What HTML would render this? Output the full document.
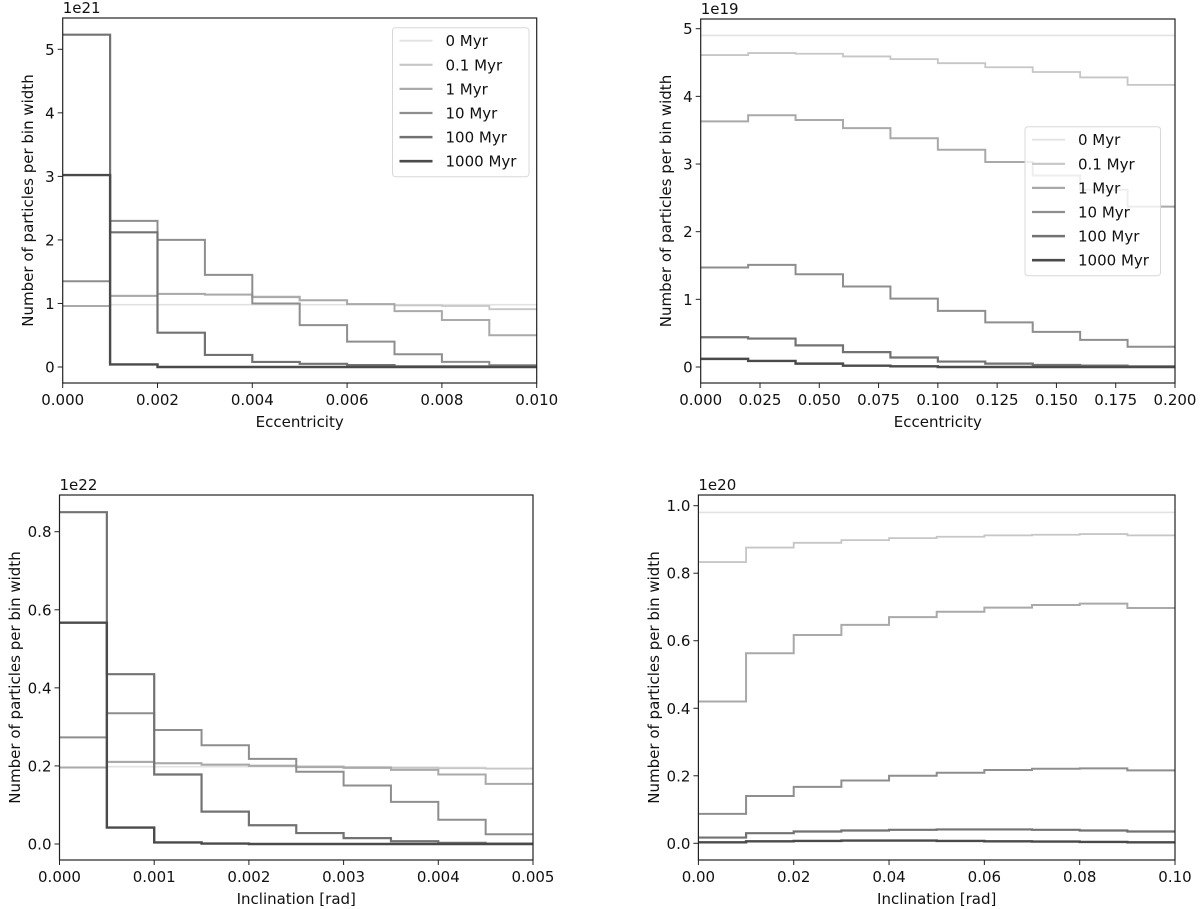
<!DOCTYPE html>
<html><head><meta charset="utf-8"><style>
body{margin:0;background:#fff;}
svg{display:block;font-family:"DejaVu Sans","Liberation Sans",sans-serif;}
</style></head><body>
<svg id="fig" width="1200" height="909" viewBox="0 0 1200 909" xmlns="http://www.w3.org/2000/svg"></svg>
<script>
const seriesNames = ["0 Myr","0.1 Myr","1 Myr","10 Myr","100 Myr","1000 Myr"];
const seriesColors = ["#e2e2e2","#c6c6c6","#a9a9a9","#8e8e8e","#727272","#4a4a4a"];
const seriesWidths = [1.6,1.8,2,2,2.2,2.4];

const eccSmallEdges = [0,0.001,0.002,0.003,0.004,0.005,0.006,0.007,0.008,0.009,0.010];
const eccSmall0 = [0.96,0.98,0.98,0.98,0.98,0.98,0.98,0.98,0.98,0.98];
const eccSmall01 = [0.96,1.12,1.15,1.14,1.11,1.05,0.99,0.97,0.96,0.91];
const eccSmall1 = [0.96,1.12,1.15,1.14,1.10,1.05,0.99,0.88,0.74,0.50];
const eccSmall10 = [1.35,2.30,2.00,1.45,1.00,0.66,0.40,0.20,0.08,0.03];
const eccSmall100 = [5.23,2.12,0.54,0.19,0.08,0.05,0.03,0.01,0.01,0.01];
const eccSmall1000 = [3.02,0.04,0.00,0.00,0.00,0.00,0.00,0.00,0.00,0.00];
const eccSmallXTicks = ["0.000","0.002","0.004","0.006","0.008","0.010"];
const eccSmallYTicks = [0,1,2,3,4,5];

const eccLargeEdges = [0,0.02,0.04,0.06,0.08,0.10,0.12,0.14,0.16,0.18,0.20];
const eccLarge0 = [4.9,4.9,4.9,4.9,4.9,4.9,4.9,4.9,4.9,4.9];
const eccLarge01 = [4.61,4.64,4.63,4.59,4.55,4.49,4.43,4.36,4.28,4.17];
const eccLarge1 = [3.63,3.72,3.65,3.53,3.38,3.21,3.03,2.83,2.62,2.37];
const eccLarge10 = [1.47,1.51,1.37,1.19,1.01,0.83,0.66,0.52,0.40,0.30];
const eccLarge100 = [0.44,0.42,0.32,0.22,0.14,0.08,0.05,0.03,0.02,0.01];
const eccLarge1000 = [0.12,0.09,0.05,0.02,0.01,0.00,0.00,0.00,0.00,0.00];
const eccLargeXTicks = ["0.000","0.025","0.050","0.075","0.100","0.125","0.150","0.175","0.200"];
const eccLargeYTicks = [0,1,2,3,4,5];

const incSmallEdges = [0,0.0005,0.001,0.0015,0.002,0.0025,0.003,0.0035,0.004,0.0045,0.005];
const incSmall0 = [0.196,0.198,0.198,0.198,0.198,0.198,0.198,0.197,0.196,0.194];
const incSmall01 = [0.196,0.211,0.207,0.204,0.201,0.199,0.197,0.195,0.194,0.193];
const incSmall1 = [0.196,0.210,0.207,0.203,0.200,0.197,0.195,0.190,0.178,0.154];
const incSmall10 = [0.273,0.335,0.292,0.253,0.218,0.185,0.150,0.108,0.062,0.025];
const incSmall100 = [0.850,0.435,0.178,0.083,0.048,0.028,0.015,0.007,0.003,0.001];
const incSmall1000 = [0.567,0.042,0.004,0.001,0.000,0.000,0.000,0.000,0.000,0.000];
const incSmallXTicks = ["0.000","0.001","0.002","0.003","0.004","0.005"];
const incSmallYTicks = [0,0.2,0.4,0.6,0.8];

const incLargeEdges = [0,0.01,0.02,0.03,0.04,0.05,0.06,0.07,0.08,0.09,0.10];
const incLarge0 = [0.98,0.98,0.98,0.98,0.98,0.98,0.98,0.98,0.98,0.98];
const incLarge01 = [0.833,0.876,0.890,0.898,0.904,0.908,0.912,0.914,0.916,0.912];
const incLarge1 = [0.420,0.563,0.617,0.647,0.670,0.686,0.698,0.706,0.710,0.697];
const incLarge10 = [0.087,0.140,0.167,0.186,0.200,0.209,0.217,0.221,0.222,0.216];
const incLarge100 = [0.017,0.030,0.035,0.038,0.040,0.041,0.041,0.040,0.038,0.035];
const incLarge1000 = [0.003,0.006,0.007,0.008,0.008,0.007,0.006,0.005,0.004,0.003];
const incLargeXTicks = ["0.00","0.02","0.04","0.06","0.08","0.10"];
const incLargeYTicks = [0,0.2,0.4,0.6,0.8,1.0];

const NS="http://www.w3.org/2000/svg";
const svg=document.getElementById('fig');
function mk(tag,attrs,parent){const e=document.createElementNS(NS,tag);for(const k in attrs)e.setAttribute(k,attrs[k]);(parent||svg).appendChild(e);return e;}

function panel(cfg){
  const g=mk('g',{});
  
  
  const {L,R,T,B,xMin,xMax,y0px,yRefVal,yRefPx}=cfg;
  const xs=v=>L+(v-xMin)/(xMax-xMin)*(R-L);
  const ys=v=>y0px-(v/yRefVal)*(y0px-yRefPx);
  // series
  cfg.series.forEach((vals,si)=>{
    let d='';
    for(let i=0;i<vals.length;i++){
      const x0=xs(cfg.edges[i]),x1=xs(cfg.edges[i+1]),y=ys(vals[i]);
      if(i===0)d+=`M${x0},${y}`;else d+=`L${x0},${y}`;
      d+=`L${x1},${y}`;
    }
    const p=mk('path',{d:d,fill:'none',stroke:seriesColors[si],'stroke-width':seriesWidths[si]},g);
    
    
  });
  // frame
  const fr=mk('rect',{x:L,y:T,width:R-L,height:B-T,fill:'none',stroke:'#222','stroke-width':1.2},g);
  
  
  // x ticks
  cfg.xTicks.forEach(t=>{
    const x=xs(parseFloat(t));
    mk('line',{x1:x,x2:x,y1:B,y2:B+5,stroke:'#222','stroke-width':1},g);
    const tx=mk('text',{x:x,y:B+22,'font-size':15,'text-anchor':'middle',fill:'#111'},g);
    tx.textContent=t;
    
    
  });
  cfg.yTicks.forEach(v=>{
    const y=ys(v);
    mk('line',{x1:L-5,x2:L,y1:y,y2:y,stroke:'#222','stroke-width':1},g);
    const tx=mk('text',{x:L-8,y:y+5.5,'font-size':15,'text-anchor':'end',fill:'#111'},g);
    tx.textContent=cfg.yFmt(v);
    
    
  });
  const off=mk('text',{x:L,y:T-5,'font-size':15,fill:'#111'},g);
  off.textContent=cfg.offset;
  
  
  const xl=mk('text',{x:(L+R)/2,y:B+44,'font-size':15,'text-anchor':'middle',fill:'#111'},g);
  xl.textContent=cfg.xLabel;
  
  
  const yc=(T+B)/2;
  const yl=mk('text',{x:cfg.yLabelX,y:yc,'font-size':15,'text-anchor':'middle',fill:'#111',transform:`rotate(-90 ${cfg.yLabelX} ${yc})`},g);
  yl.textContent='Number of particles per bin width';
  
  
  if(cfg.legend){
    const lg=cfg.legend;
    const lgG=mk('g',{},g);
    
    
    mk('rect',{x:lg.x,y:lg.y,width:lg.w,height:lg.h,rx:3,fill:'rgba(255,255,255,0.8)',stroke:'#d8d8d8','stroke-width':1},lgG);
    seriesNames.forEach((n,i)=>{
      const yy=lg.y+13+i*24.1;
      const ent=mk('g',{},lgG);
      
      
      mk('line',{x1:lg.x+7,x2:lg.x+40,y1:yy,y2:yy,stroke:seriesColors[i],'stroke-width':seriesWidths[i]+0.3},ent);
      const t=mk('text',{x:lg.x+53,y:yy+5.5,'font-size':15,fill:'#111'},ent);
      t.textContent=n;
    });
  }
}
const f0=v=>String(v);
const f1=v=>v.toFixed(1);
panel({name:'eccentricity-small-panel',L:62.7,R:536.7,T:18,B:383,xMin:0,xMax:0.010,y0px:367,yRefVal:5,yRefPx:49.3,
  edges:eccSmallEdges,series:[eccSmall0,eccSmall01,eccSmall1,eccSmall10,eccSmall100,eccSmall1000],
  xTicks:eccSmallXTicks,yTicks:eccSmallYTicks,yFmt:f0,offset:'1e21',xLabel:'Eccentricity',yLabelX:33,
  legend:{x:392.5,y:27.7,w:136.5,h:149}});
panel({name:'eccentricity-large-panel',L:700.7,R:1175,T:19,B:383,xMin:0,xMax:0.2,y0px:367,yRefVal:5,yRefPx:28.7,
  edges:eccLargeEdges,series:[eccLarge0,eccLarge01,eccLarge1,eccLarge10,eccLarge100,eccLarge1000],
  xTicks:eccLargeXTicks,yTicks:eccLargeYTicks,yFmt:f0,offset:'1e19',xLabel:'Eccentricity',yLabelX:671,
  legend:{x:1025,y:126.7,w:135.5,h:149}});
panel({name:'inclination-small-panel',L:59.5,R:533,T:495,B:860,xMin:0,xMax:0.005,y0px:844,yRefVal:0.8,yRefPx:531.7,
  edges:incSmallEdges,series:[incSmall0,incSmall01,incSmall1,incSmall10,incSmall100,incSmall1000],
  xTicks:incSmallXTicks,yTicks:incSmallYTicks,yFmt:f1,offset:'1e22',xLabel:'Inclination [rad]',yLabelX:20});
panel({name:'inclination-large-panel',L:698.4,R:1175,T:495,B:860,xMin:0,xMax:0.1,y0px:843.3,yRefVal:1.0,yRefPx:505.7,
  edges:incLargeEdges,series:[incLarge0,incLarge01,incLarge1,incLarge10,incLarge100,incLarge1000],
  xTicks:incLargeXTicks,yTicks:incLargeYTicks,yFmt:f1,offset:'1e20',xLabel:'Inclination [rad]',yLabelX:659});
</script>
</body></html>
